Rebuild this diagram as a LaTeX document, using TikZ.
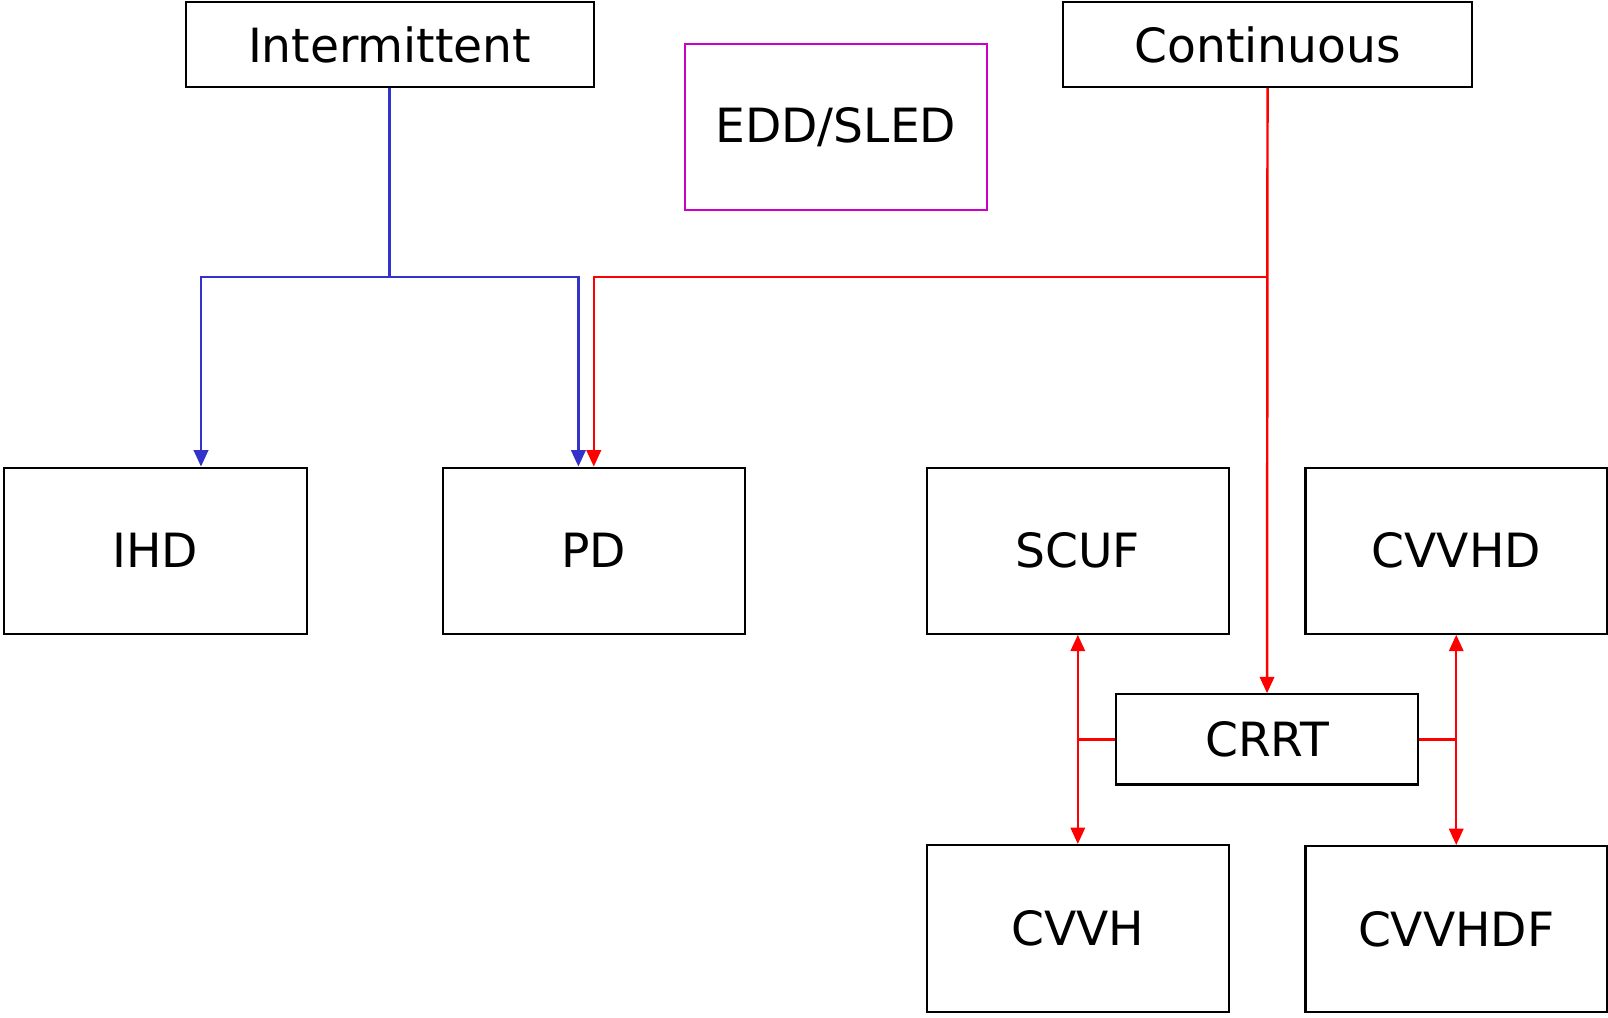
\documentclass[tikz,border=0pt]{standalone}
\usepackage{fontspec}
\setmainfont{DejaVu Sans}
\usetikzlibrary{arrows.meta}
\definecolor{myblue}{RGB}{51,51,204}
\definecolor{myred}{RGB}{255,0,0}
\definecolor{mymag}{RGB}{204,0,204}
\begin{document}
\begin{tikzpicture}[x=1pt,y=-1pt,
  box/.style={draw=black,line width=2pt,inner sep=0pt,font=\fontsize{46}{52}\selectfont},
  conn/.style={line width=2.4pt},
  tip/.style={-{Triangle[length=16pt,width=14pt]}},
  tips/.style={{Triangle[length=16pt,width=14pt]}-{Triangle[length=16pt,width=14pt]}}]
\useasboundingbox (0,0) rectangle (1568,992);
\node[box,minimum width=398pt,minimum height=83pt] (int) at (380,43.5) {Intermittent};
\node[box,draw=mymag,minimum width=294pt,minimum height=162pt] (edd) at (815,124) {EDD/SLED};
\node[box,minimum width=398pt,minimum height=83pt] (cont) at (1236,43.5) {Continuous};
\node[box,minimum width=295pt,minimum height=162pt] (ihd) at (151.5,537) {IHD};
\node[box,minimum width=294pt,minimum height=162pt] (pd) at (579,537) {PD};
\node[box,minimum width=294pt,minimum height=162pt] (scuf) at (1051,537) {SCUF};
\node[box,minimum width=294pt,minimum height=162pt] (cvvhd) at (1420,537) {CVVHD};
\node[box,minimum width=295pt,minimum height=88pt] (crrt) at (1235.5,721) {CRRT};
\node[box,minimum width=294pt,minimum height=163pt] (cvvh) at (1051,905.5) {CVVH};
\node[box,minimum width=294pt,minimum height=162pt] (cvvhdf) at (1420,906) {CVVHDF};
% blue
\coordinate (bj) at (380,270);
\draw[conn,myblue] (int.south) -- (bj);
\draw[conn,myblue,tip] (bj) -| ([xshift=44.5pt]ihd.north);
\draw[conn,myblue,tip] (bj) -| ([xshift=-15pt]pd.north);
% red
\coordinate (rj) at (1236,270);
\draw[conn,myred,tip] (cont.south) -- (crrt.north);
\draw[conn,myred,tip] (rj) -| (pd.north);
% CRRT branches
\coordinate (lj) at (scuf.south |- crrt.west);
\coordinate (rj2) at (cvvhd.south |- crrt.east);
\draw[conn,myred] (crrt.west) -- (lj);
\draw[conn,myred] (crrt.east) -- (rj2);
\draw[conn,myred,tips] (scuf.south) -- (cvvh.north);
\draw[conn,myred,tips] (cvvhd.south) -- (cvvhdf.north);
\end{tikzpicture}
\end{document}
